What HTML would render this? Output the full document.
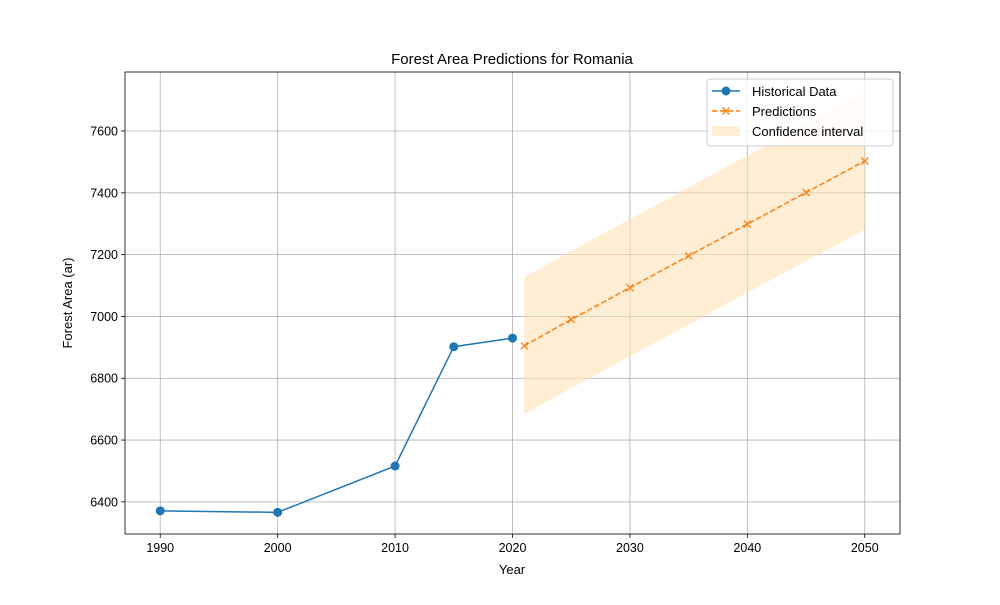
<!DOCTYPE html>
<html><head><meta charset="utf-8"><style>
body{margin:0;background:#fff;font-family:"Liberation Sans","DejaVu Sans",sans-serif}
</style></head><body>
<svg id="chart" width="1000" height="600" xmlns="http://www.w3.org/2000/svg"></svg>
<script>
const histYears=[1990,2000,2010,2015,2020];
const histValues=[6371,6366,6516,6902,6930];
const predYears=[2021,2025,2030,2035,2040,2045,2050];
const predValues=[6905,6990,7093,7196,7299,7401,7503];
const ciLower=[6683,6768,6871,6974,7077,7179,7281];
const ciUpper=[7127,7212,7315,7418,7521,7623,7725];
const xTicks=[1990,2000,2010,2020,2030,2040,2050];
const yTicks=[6400,6600,6800,7000,7200,7400,7600];

const L=125,R=900,T=72,B=534;
const xMin=1987.0,xMax=2053.0,yMin=6296,yMax=7791;
const sx=v=>L+(v-xMin)/(xMax-xMin)*(R-L);
const sy=v=>B-(v-yMin)/(yMax-yMin)*(B-T);
const NS="http://www.w3.org/2000/svg";
const svg=document.getElementById('chart');
function mk(tag,attrs,parent){const e=document.createElementNS(NS,tag);for(const k in attrs)e.setAttribute(k,attrs[k]);(parent||svg).appendChild(e);return e;}

// grid
xTicks.forEach(t=>{
  const g=mk('line',{x1:sx(t),x2:sx(t),y1:T,y2:B,stroke:'#b0b0b0','stroke-width':0.8});
  
  
  mk('line',{x1:sx(t),x2:sx(t),y1:B,y2:B+4,stroke:'#000','stroke-width':0.8});
  const tx=mk('text',{x:sx(t),y:B+18,'text-anchor':'middle','font-size':12.5});
  tx.textContent=t;
  
  
});
yTicks.forEach(t=>{
  const g=mk('line',{x1:L,x2:R,y1:sy(t),y2:sy(t),stroke:'#b0b0b0','stroke-width':0.8});
  
  
  mk('line',{x1:L-4,x2:L,y1:sy(t),y2:sy(t),stroke:'#000','stroke-width':0.8});
  const tx=mk('text',{x:L-7,y:sy(t)+4.5,'text-anchor':'end','font-size':12.5});
  tx.textContent=t;
  
  
});

// CI band
let pts=predYears.map((y,i)=>sx(y)+','+sy(ciUpper[i]));
for(let i=predYears.length-1;i>=0;i--)pts.push(sx(predYears[i])+','+sy(ciLower[i]));
const band=mk('polygon',{points:pts.join(' '),fill:'#ffe0b0','fill-opacity':0.55});



// historical
const hl=mk('polyline',{points:histYears.map((y,i)=>sx(y)+','+sy(histValues[i])).join(' '),fill:'none',stroke:'#1f77b4','stroke-width':1.5});


histYears.forEach((y,i)=>{
  const c=mk('circle',{cx:sx(y),cy:sy(histValues[i]),r:4.5,fill:'#1f77b4'});
  
  
});
// predictions
const pl=mk('polyline',{points:predYears.map((y,i)=>sx(y)+','+sy(predValues[i])).join(' '),fill:'none',stroke:'#ff7f0e','stroke-width':1.5,'stroke-dasharray':'5.5,2.5'});


predYears.forEach((y,i)=>{
  const x=sx(y),yy=sy(predValues[i]);
  const p=mk('path',{d:`M${x-3.5},${yy-3.5}L${x+3.5},${yy+3.5}M${x-3.5},${yy+3.5}L${x+3.5},${yy-3.5}`,stroke:'#ff7f0e','stroke-width':1.3});
  
  
});

// axes frame
mk('rect',{x:L,y:T,width:R-L,height:B-T,fill:'none',stroke:'#000','stroke-width':0.8});
</script>
<svg width="1000" height="600" style="position:absolute;left:0;top:0" xmlns="http://www.w3.org/2000/svg">
<text x="512" y="64" text-anchor="middle" font-size="15">Forest Area Predictions for Romania</text>
<text x="512" y="574" text-anchor="middle" font-size="13">Year</text>
<text x="72" y="303" text-anchor="middle" font-size="13" transform="rotate(-90 72 303)">Forest Area (ar)</text>
<g>
<rect x="707" y="79" width="186" height="67" rx="3" fill="#fff" fill-opacity="0.8" stroke="#ccc"/>
<g><line x1="712" x2="740" y1="91" y2="91" stroke="#1f77b4" stroke-width="1.5"/><circle cx="726" cy="91" r="4.5" fill="#1f77b4"/><text x="752" y="96" font-size="13">Historical Data</text></g>
<g><line x1="712" x2="740" y1="111" y2="111" stroke="#ff7f0e" stroke-width="1.5" stroke-dasharray="5.5,2.5"/><path d="M722.5,107.5L729.5,114.5M722.5,114.5L729.5,107.5" stroke="#ff7f0e" stroke-width="1.3"/><text x="752" y="116" font-size="13">Predictions</text></g>
<g><rect x="712" y="126" width="28" height="10" fill="#ffe0b0" fill-opacity="0.55"/><text x="752" y="136" font-size="13">Confidence interval</text></g>
</g>
</svg>
</body></html>
